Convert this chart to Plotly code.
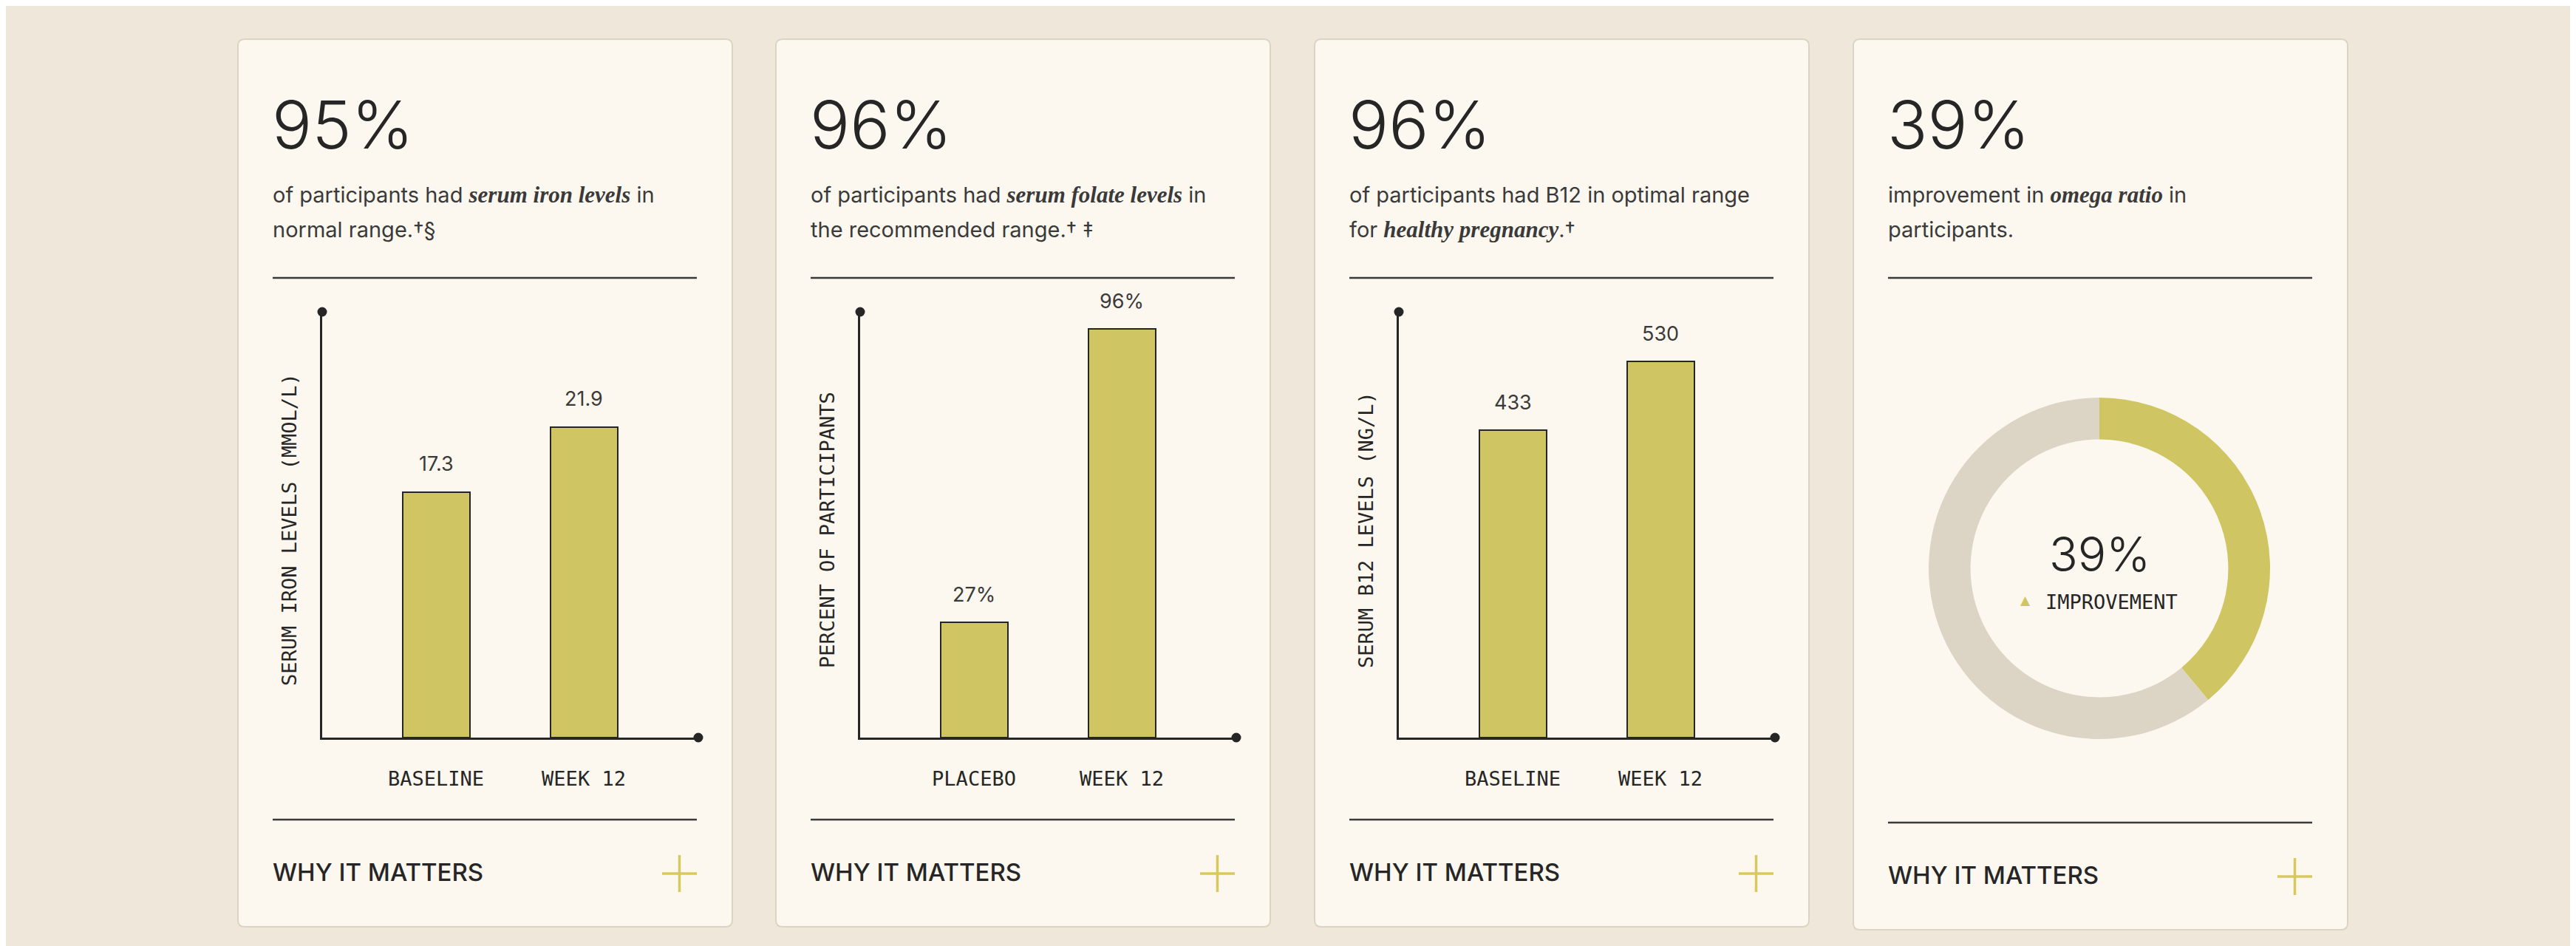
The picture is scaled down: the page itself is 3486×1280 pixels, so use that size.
import plotly.graph_objects as go

# Page geometry (pixels); the page body adds an 8px margin, so positions are shifted back by it
W, H = 3486, 1280
PAGE_OFF = 8

headline_stats = ["95%", "96%", "96%", "39%"]

iron_cats = ["BASELINE", "WEEK 12"]
iron_vals = [17.3, 21.9]
iron_labels = ["17.3", "21.9"]

folate_cats = ["PLACEBO", "WEEK 12"]
folate_vals = [27, 96]
folate_labels = ["27%", "96%"]

b12_cats = ["BASELINE", "WEEK 12"]
b12_vals = [433, 530]
b12_labels = ["433", "530"]

omega_labels = ["Improvement", "Remaining"]
omega_vals = [39, 61]

y_titles = ["SERUM IRON LEVELS (MMOL/L)", "PERCENT OF PARTICIPANTS", "SERUM B12 LEVELS (NG/L)"]
y_ranges = [[0, 30], [0, 100], [0, 600]]

serif = 'font-family:"Liberation Serif";font-weight:bold;font-style:italic;font-size:31px'
desc_lines = [
    ["of participants had <span style='%s'>serum iron levels</span> in" % serif, "normal range.†§"],
    ["of participants had <span style='%s'>serum folate levels</span> in" % serif, "the recommended range.† ‡"],
    ["of participants had B12 in optimal range", "for <span style='%s'>healthy pregnancy</span>.†" % serif],
    ["improvement in <span style='%s'>omega ratio</span> in" % serif, "participants."],
]

# Colours
BG = "#EFE8DA"
CARD = "#FCF8EF"
CARD_EDGE = "#DCD4C3"
GOLD = "#CFC563"
GOLD_PLUS = "#D8C85E"
GREY_RING = "#DCD4C4"
INK = "#262626"
INK_SOFT = "#3A3A3A"

SANS = "Inter"
MONO = "DejaVu Sans Mono"

card_x0 = [322, 1050, 1779, 2508]
card_w = 669
card_top = 53
card_bottom = [1254, 1254, 1254, 1258]


def fx(px):
    return (px - PAGE_OFF) / W


def fy(py):
    return 1 - (py - PAGE_OFF) / H


def card_path(x0, y0, x1, y1, r=9):
    pts = [
        (x0 + r, y0), (x1 - r, y0), (x1, y0), (x1, y0 + r),
        (x1, y1 - r), (x1, y1), (x1 - r, y1), (x0 + r, y1),
        (x0, y1), (x0, y1 - r), (x0, y0 + r), (x0, y0), (x0 + r, y0),
    ]
    p = [(fx(a), fy(b)) for a, b in pts]
    return ("M {0[0]},{0[1]} L {1[0]},{1[1]} Q {2[0]},{2[1]} {3[0]},{3[1]} "
            "L {4[0]},{4[1]} Q {5[0]},{5[1]} {6[0]},{6[1]} L {7[0]},{7[1]} "
            "Q {8[0]},{8[1]} {9[0]},{9[1]} L {10[0]},{10[1]} "
            "Q {11[0]},{11[1]} {12[0]},{12[1]} Z").format(*p)


fig = go.Figure()
shapes = []
annotations = []

# Cards, headline numbers, descriptions, rules, footer
for i, x0 in enumerate(card_x0):
    shapes.append(dict(type="path", xref="paper", yref="paper",
                       path=card_path(x0, card_top, x0 + card_w, card_bottom[i]),
                       fillcolor=CARD, line=dict(color=CARD_EDGE, width=2), layer="below"))
    annotations.append(dict(x=fx(x0 + 44), y=fy(169), xref="paper", yref="paper",
                            text=headline_stats[i], showarrow=False, xanchor="left", yanchor="middle",
                            font=dict(family=SANS, size=90, color=INK, weight=300)))
    for j, line in enumerate(desc_lines[i]):
        annotations.append(dict(x=fx(x0 + 45), y=fy(263 + 47 * j), xref="paper", yref="paper",
                                text=line, showarrow=False, xanchor="left", yanchor="middle",
                                font=dict(family=SANS, size=29, color=INK_SOFT)))
    shapes.append(dict(type="line", xref="paper", yref="paper",
                       x0=fx(x0 + 47), x1=fx(x0 + 621), y0=fy(376), y1=fy(376),
                       line=dict(color=INK_SOFT, width=2.5)))
    off = card_bottom[i] - 1254
    shapes.append(dict(type="line", xref="paper", yref="paper",
                       x0=fx(x0 + 47), x1=fx(x0 + 621), y0=fy(1109 + off), y1=fy(1109 + off),
                       line=dict(color=INK_SOFT, width=2.5)))
    annotations.append(dict(x=fx(x0 + 45), y=fy(1180 + off), xref="paper", yref="paper",
                            text="WHY IT MATTERS", showarrow=False, xanchor="left", yanchor="middle",
                            font=dict(family=SANS, size=33, color=INK, weight=500)))
    # plus sign
    shapes.append(dict(type="line", xref="paper", yref="paper",
                       x0=fx(x0 + 574), x1=fx(x0 + 621), y0=fy(1182 + off), y1=fy(1182 + off),
                       line=dict(color=GOLD_PLUS, width=3.5)))
    shapes.append(dict(type="line", xref="paper", yref="paper",
                       x0=fx(x0 + 597.5), x1=fx(x0 + 597.5), y0=fy(1157 + off), y1=fy(1207 + off),
                       line=dict(color=GOLD_PLUS, width=3.5)))

# Bar charts
bar_sets = [
    (iron_cats, iron_vals, iron_labels),
    (folate_cats, folate_vals, folate_labels),
    (b12_cats, b12_vals, b12_labels),
]
plot_top, plot_bottom = 422, 998
for k, (cats, vals, labels) in enumerate(bar_sets):
    n = "" if k == 0 else str(k + 1)
    x0 = card_x0[k]
    ax_left, ax_right = x0 + 114, x0 + 623
    fig.add_trace(go.Bar(x=cats, y=vals, xaxis="x" + n, yaxis="y" + n, width=0.455,
                         marker=dict(color=GOLD, line=dict(color=INK, width=2)),
                         hoverinfo="skip", showlegend=False))
    fig.update_layout(**{
        "xaxis" + n: dict(domain=[fx(ax_left), fx(ax_right)], anchor="y" + n,
                          range=[-0.77, 1.775], showline=True, linecolor=INK, linewidth=2.5,
                          showgrid=False, zeroline=False, ticks="outside", ticklen=30,
                          tickcolor="rgba(0,0,0,0)",
                          tickfont=dict(family=MONO, size=27, color=INK)),
        "yaxis" + n: dict(domain=[fy(plot_bottom), fy(plot_top)], anchor="x" + n,
                          range=y_ranges[k], showline=True, linecolor=INK, linewidth=2.5,
                          showgrid=False, zeroline=False, showticklabels=False, ticks=""),
    })
    for c, v, t in zip(cats, vals, labels):
        annotations.append(dict(x=c, y=v, xref="x" + n, yref="y" + n, text=t, showarrow=False,
                                yshift=38, yanchor="middle",
                                font=dict(family=SANS, size=27, color=INK_SOFT)))
    annotations.append(dict(x=fx(ax_left - 45), y=fy((plot_top + plot_bottom) / 2 + 7),
                            xref="paper", yref="paper", text=y_titles[k], showarrow=False,
                            textangle=-90, xanchor="center", yanchor="middle",
                            font=dict(family=MONO, size=27, color=INK)))
    # dots at the axis ends
    for (cx, cy) in [(ax_left, plot_top), (ax_right, plot_bottom)]:
        shapes.append(dict(type="circle", xref="paper", yref="paper",
                           xsizemode="pixel", ysizemode="pixel",
                           xanchor=fx(cx), yanchor=fy(cy), x0=-6.5, x1=6.5, y0=-6.5, y1=6.5,
                           fillcolor=INK, line=dict(width=0)))

# Donut for omega ratio
cx, cy, r = 2841, 769, 231
fig.add_trace(go.Pie(labels=omega_labels, values=omega_vals, hole=0.755, sort=False,
                     direction="clockwise", rotation=0, textinfo="none", hoverinfo="skip",
                     showlegend=False, marker=dict(colors=[GOLD, GREY_RING], line=dict(width=0)),
                     domain=dict(x=[fx(cx - r), fx(cx + r)], y=[fy(cy + r), fy(cy - r)])))
annotations.append(dict(x=fx(cx), y=fy(749), xref="paper", yref="paper",
                        text="%d%%" % omega_vals[0], showarrow=False,
                        xanchor="center", yanchor="middle",
                        font=dict(family=SANS, size=64, color=INK, weight=300)))
annotations.append(dict(x=fx(2741), y=fy(812), xref="paper", yref="paper", text="▲",
                        showarrow=False, xanchor="center", yanchor="middle",
                        font=dict(family="DejaVu Sans", size=17, color=GOLD)))
annotations.append(dict(x=fx(2766), y=fy(814), xref="paper", yref="paper", text="IMPROVEMENT",
                        showarrow=False, xanchor="left", yanchor="middle",
                        font=dict(family=MONO, size=27, color=INK)))

fig.update_layout(
    width=W, height=H,
    margin=dict(l=0, r=0, t=0, b=0),
    paper_bgcolor=BG, plot_bgcolor="rgba(0,0,0,0)",
    shapes=shapes, annotations=annotations,
    bargap=0,
)

fig.write_html("out.html")
